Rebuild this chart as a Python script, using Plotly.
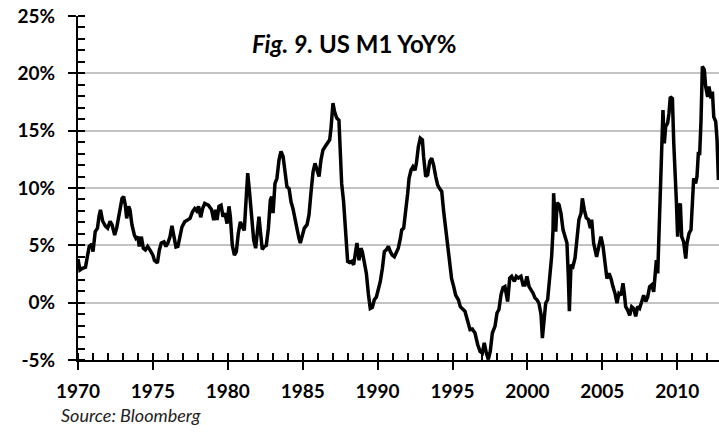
import plotly.graph_objects as go

# ---- data (decimal year, M1 YoY %) ----
years = [
    1970.00, 1970.13, 1970.30, 1970.50, 1970.65, 1970.75, 1970.93, 1971.00, 1971.15, 1971.30,
    1971.40, 1971.50, 1971.65, 1971.82, 1971.98, 1972.14, 1972.27, 1972.45, 1972.58, 1972.76,
    1972.94, 1973.05, 1973.16, 1973.25, 1973.38, 1973.47, 1973.60, 1973.76, 1973.87, 1974.00,
    1974.09, 1974.23, 1974.36, 1974.50, 1974.65, 1974.80, 1975.00, 1975.10, 1975.30, 1975.43,
    1975.56, 1975.74, 1975.87, 1976.00, 1976.14, 1976.27, 1976.40, 1976.54, 1976.67, 1976.80,
    1976.94, 1977.12, 1977.30, 1977.48, 1977.65, 1977.79, 1977.92, 1978.05, 1978.19, 1978.32,
    1978.46, 1978.70, 1978.92, 1979.06, 1979.19, 1979.28, 1979.41, 1979.55, 1979.68, 1979.81,
    1979.95, 1980.08, 1980.17, 1980.30, 1980.44, 1980.57, 1980.70, 1980.84, 1980.97, 1981.10,
    1981.24, 1981.33, 1981.46, 1981.59, 1981.73, 1981.86, 1981.99, 1982.08, 1982.17, 1982.30,
    1982.44, 1982.57, 1982.71, 1982.84, 1982.93, 1983.02, 1983.15, 1983.28, 1983.42, 1983.55,
    1983.69, 1983.82, 1983.95, 1984.09, 1984.22, 1984.35, 1984.49, 1984.62, 1984.75, 1984.84,
    1984.98, 1985.11, 1985.29, 1985.42, 1985.55, 1985.69, 1985.82, 1985.95, 1986.09, 1986.22,
    1986.35, 1986.49, 1986.67, 1986.80, 1986.89, 1987.02, 1987.12, 1987.27, 1987.42, 1987.51,
    1987.60, 1987.73, 1987.82, 1987.91, 1988.00, 1988.13, 1988.27, 1988.40, 1988.54, 1988.62,
    1988.76, 1988.89, 1988.98, 1989.11, 1989.25, 1989.38, 1989.51, 1989.65, 1989.78, 1989.92,
    1990.05, 1990.18, 1990.32, 1990.45, 1990.58, 1990.72, 1990.85, 1990.98, 1991.12, 1991.25,
    1991.38, 1991.52, 1991.61, 1991.74, 1991.87, 1992.01, 1992.10, 1992.23, 1992.36, 1992.50,
    1992.59, 1992.72, 1992.85, 1992.99, 1993.07, 1993.21, 1993.34, 1993.48, 1993.61, 1993.74,
    1993.88, 1994.01, 1994.14, 1994.28, 1994.41, 1994.54, 1994.68, 1994.81, 1994.94, 1995.08,
    1995.21, 1995.39, 1995.52, 1995.83, 1996.01, 1996.17, 1996.32, 1996.50, 1996.68, 1996.84,
    1996.99, 1997.12, 1997.26, 1997.39, 1997.52, 1997.66, 1997.84, 1997.97, 1998.10, 1998.24,
    1998.37, 1998.50, 1998.68, 1998.82, 1998.95, 1999.13, 1999.26, 1999.40, 1999.57, 1999.71,
    1999.84, 1999.97, 2000.11, 2000.24, 2000.37, 2000.51, 2000.64, 2000.77, 2000.91, 2001.00,
    2001.09, 2001.22, 2001.35, 2001.49, 2001.62, 2001.71, 2001.75, 2001.89, 2001.98, 2002.11,
    2002.24, 2002.38, 2002.51, 2002.64, 2002.73, 2002.80, 2002.91, 2003.04, 2003.18, 2003.31,
    2003.44, 2003.58, 2003.67, 2003.80, 2003.93, 2004.07, 2004.20, 2004.29, 2004.42, 2004.62,
    2004.78, 2004.91, 2005.05, 2005.18, 2005.31, 2005.45, 2005.58, 2005.71, 2005.85, 2005.98,
    2006.11, 2006.25, 2006.38, 2006.47, 2006.56, 2006.69, 2006.83, 2006.96, 2007.09, 2007.23,
    2007.36, 2007.49, 2007.63, 2007.76, 2007.90, 2008.03, 2008.16, 2008.30, 2008.43, 2008.52,
    2008.61, 2008.70, 2008.79, 2008.87, 2008.96, 2009.05, 2009.14, 2009.23, 2009.36, 2009.45,
    2009.54, 2009.68, 2009.77, 2009.85, 2009.94, 2010.03, 2010.12, 2010.21, 2010.30, 2010.43,
    2010.57, 2010.65, 2010.79, 2010.92, 2011.01, 2011.10, 2011.23, 2011.32, 2011.41, 2011.50,
    2011.59, 2011.68, 2011.81, 2011.90, 2012.03, 2012.12, 2012.26, 2012.35, 2012.44, 2012.57,
    2012.66, 2012.75,
]

m1_yoy = [
    3.8, 2.85, 3.0, 3.1, 4.2, 4.9, 5.1, 4.45, 6.2, 6.5,
    7.5, 8.1, 7.1, 6.7, 6.5, 7.1, 6.8, 5.9, 6.5, 7.65,
    9.1, 9.25, 8.5, 7.35, 8.4, 8.1, 6.8, 5.9, 5.6, 5.75,
    4.9, 5.75, 4.75, 4.6, 4.9, 4.6, 4.15, 3.7, 3.45, 4.6,
    5.2, 5.3, 4.9, 5.2, 5.75, 6.7, 5.6, 4.85, 4.9, 5.6,
    6.6, 7.05, 7.2, 7.35, 7.95, 8.2, 8.0, 8.4, 7.45, 8.2,
    8.65, 8.5, 8.1, 7.2, 8.1, 7.2, 8.4, 8.5, 7.5, 7.8,
    6.9, 8.4, 7.5, 5.0, 4.15, 4.45, 6.05, 7.05, 6.6, 6.3,
    9.4, 11.3, 9.5, 7.5, 5.45, 4.75, 6.6, 7.5, 6.3, 4.65,
    4.9, 5.0, 6.5, 8.95, 9.25, 7.8, 10.4, 10.85, 12.45, 13.2,
    12.75, 11.4, 10.1, 9.95, 8.8, 8.2, 7.2, 6.35, 5.6, 5.2,
    5.75, 6.5, 6.8, 7.65, 9.55, 11.4, 12.15, 11.55, 11.0, 12.45,
    13.3, 13.6, 13.9, 14.2, 15.2, 17.4, 16.7, 16.1, 15.9, 13.3,
    10.4, 8.8, 6.6, 4.9, 3.6, 3.5, 3.6, 3.3, 4.9, 5.2,
    3.7, 4.75, 4.45, 3.45, 2.55, 0.8, -0.5, -0.4, 0.25, 0.5,
    1.1, 1.85, 3.0, 4.45, 4.6, 4.9, 4.45, 4.15, 4.0, 4.45,
    4.75, 5.6, 6.35, 6.5, 7.8, 9.55, 10.85, 11.55, 11.85, 11.55,
    12.15, 13.6, 14.35, 14.2, 12.75, 11.0, 11.15, 12.3, 12.6, 12.0,
    11.0, 10.25, 9.95, 9.7, 7.95, 6.35, 4.75, 3.45, 2.1, 1.4,
    0.65, 0.25, -0.35, -0.75, -1.6, -2.35, -2.3, -2.65, -3.65, -4.25,
    -4.4, -3.5, -4.4, -4.95, -4.25, -2.65, -2.05, -0.9, -0.6, 0.7,
    1.3, 1.4, 0.1, 2.15, 2.3, 1.85, 2.3, 2.15, 2.3, 1.55,
    1.55, 2.3, 1.4, 1.15, 0.85, 0.4, 0.25, -0.05, -1.05, -3.1,
    -1.8, -0.05, 0.25, 2.0, 4.05, 6.35, 9.55, 6.2, 8.7, 8.55,
    7.8, 6.35, 5.8, 5.2, 2.3, -0.75, 3.3, 3.15, 3.9, 5.8,
    7.25, 7.8, 9.1, 8.1, 7.4, 7.25, 6.5, 7.25, 5.2, 4.0,
    4.9, 5.75, 4.9, 3.7, 2.1, 2.55, 2.1, 1.4, 0.8, -0.05,
    0.8, 0.65, 1.7, 0.8, -0.35, -0.65, -1.1, -0.35, -0.5, -1.2,
    -0.35, -0.5, 0.1, 0.65, 0.1, 0.5, 1.4, 1.55, 0.95, 2.25,
    3.7, 2.55, 6.6, 10.1, 14.5, 16.8, 13.9, 15.35, 15.65, 16.5,
    17.95, 17.8, 13.9, 11.85, 8.95, 5.75, 8.4, 8.65, 5.75, 5.3,
    3.85, 5.15, 6.05, 6.35, 8.4, 10.85, 10.4, 11.0, 13.0, 13.0,
    15.9, 20.6, 20.3, 18.85, 17.95, 18.85, 17.8, 18.4, 16.2, 15.8,
    14.2, 10.7,
]

x_tick_vals = [1970, 1975, 1980, 1985, 1990, 1995, 2000, 2005, 2010]
x_tick_text = ["1970", "1975", "1980", "1985", "1990", "1995", "2000", "2005", "2010"]
y_tick_vals = [-5, 0, 5, 10, 15, 20, 25]
y_tick_text = ["-5%", "0%", "5%", "10%", "15%", "20%", "25%"]

title_text = "<b><i>Fig. 9.</i> US M1 YoY%</b>"
source_text = "<i>Source: Bloomberg</i>"

X_RANGE = [1970, 2012.79]
Y_RANGE = [-5, 25]
FONT = "Lato, 'Open Sans', sans-serif"

fig = go.Figure()
fig.add_trace(go.Scatter(
    x=years, y=m1_yoy, mode="lines",
    line=dict(color="black", width=3.5),
    showlegend=False, hoverinfo="x+y",
))
# invisible trace so the overlay axes (inner half of crossing major ticks) render
fig.add_trace(go.Scatter(
    x=[X_RANGE[0]], y=[Y_RANGE[0]], xaxis="x2", yaxis="y2", mode="markers",
    marker=dict(opacity=0), showlegend=False, hoverinfo="skip",
))

fig.update_layout(
    width=719, height=432,
    margin=dict(l=78, r=0, t=16, b=72),
    paper_bgcolor="white", plot_bgcolor="white",
    font=dict(family=FONT, color="black"),
    xaxis=dict(
        range=X_RANGE, tickvals=x_tick_vals, ticktext=x_tick_text,
        showgrid=False, zeroline=False,
        showline=True, linecolor="black", linewidth=2,
        ticks="outside", ticklen=8, tickwidth=2, tickcolor="black",
        tickfont=dict(family=FONT, size=19, color="black", weight="bold"),
        ticklabelstandoff=5,
        minor=dict(ticks="inside", dtick=1, tick0=1970, ticklen=7, tickwidth=1.5,
                   tickcolor="black", showgrid=False),
    ),
    yaxis=dict(
        range=Y_RANGE, tickvals=y_tick_vals, ticktext=y_tick_text,
        showgrid=True, gridcolor="#c3c3c3", gridwidth=2, zeroline=False,
        showline=True, linecolor="black", linewidth=2,
        ticks="outside", ticklen=8, tickwidth=2, tickcolor="black",
        tickfont=dict(family=FONT, size=19, color="black", weight="bold"),
        ticklabelstandoff=9,
        minor=dict(ticks="inside", dtick=1, tick0=0, ticklen=7, tickwidth=1.5,
                   tickcolor="black", showgrid=False),
    ),
    xaxis2=dict(
        overlaying="x", anchor="y", side="bottom", range=X_RANGE,
        tickvals=x_tick_vals, showticklabels=False, showgrid=False, zeroline=False,
        showline=False, ticks="inside", ticklen=7, tickwidth=2, tickcolor="black",
    ),
    yaxis2=dict(
        overlaying="y", anchor="x", side="left", range=Y_RANGE,
        tickvals=y_tick_vals, showticklabels=False, showgrid=False, zeroline=False,
        showline=False, ticks="inside", ticklen=4, tickwidth=2, tickcolor="black",
    ),
    annotations=[
        dict(text=title_text, xref="x", yref="y", x=1988.4, y=22.6,
             xanchor="center", yanchor="middle", showarrow=False,
             font=dict(family=FONT, size=24, color="black")),
        dict(text=source_text, xref="paper", yref="paper", x=-0.03, y=-0.16,
             xanchor="left", yanchor="middle", showarrow=False,
             font=dict(family=FONT, size=18, color="#222222")),
    ],
)

# remove the browser's default 8px body margin so the figure sits at the page origin
fig.write_html(
    "out.html",
    config={"displayModeBar": False},
    post_script="document.body.style.margin='0px';",
)
